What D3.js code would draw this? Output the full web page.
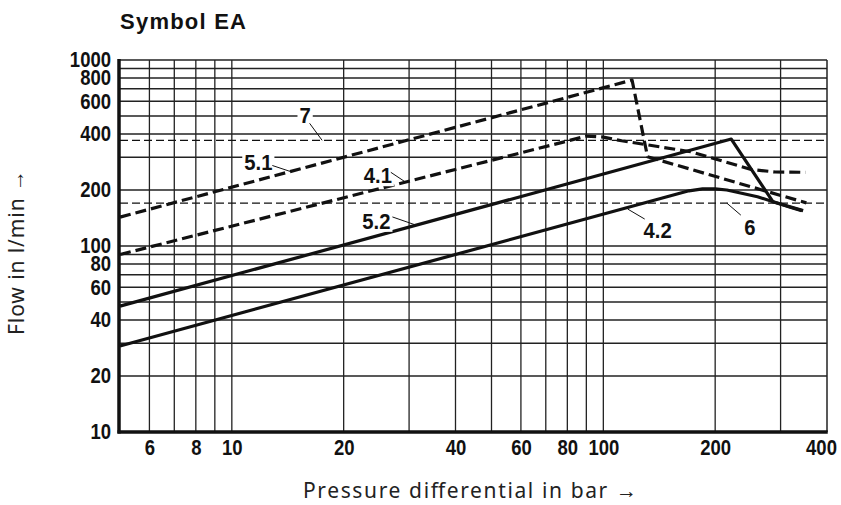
<!DOCTYPE html>
<html lang="en">
<head>
  <meta charset="UTF-8">
  <title>Symbol EA</title>
  <style>
    * { margin: 0; padding: 0; box-sizing: border-box; }
    body { background: #fff; width: 841px; height: 505px; overflow: hidden; }
    .tick text { font-family: "Liberation Sans", Arial, sans-serif; font-weight: bold; font-size: 21.5px; fill: #111; }
    .lbl { font-family: "Liberation Sans", Arial, sans-serif; font-weight: bold; font-size: 22px; fill: #111; }
  </style>
</head>
<body>
  <div id="chart"></div>

  <script src="https://d3js.org/d3.v7.min.js"></script>
  <script>
  // data
  const xTicks = [6, 8, 10, 20, 40, 60, 80, 100, 200, 400];
  const yTicks = [10, 20, 40, 60, 80, 100, 200, 400, 600, 800, 1000];
  const xGrid = [6, 7, 8, 9, 10, 20, 30, 40, 50, 60, 70, 80, 90, 100, 200, 300];
  const yGrid = [20, 30, 40, 50, 60, 70, 80, 90, 100, 200, 300, 400, 500, 600, 700, 800, 900, 1000];

  const curve7  = [[5, 370], [400, 370]];
  const curve6  = [[5, 170], [400, 170]];
  const curve51 = [[5, 143], [119.5, 780], [131.5, 302], [352, 170.5]];
  const curve41 = [[5, 90], [78, 362], [90, 390], [100, 385], [112, 368], [172, 321], [250, 258], [290, 250], [350, 249]];
  const curve52 = [[5, 47.5], [221, 376], [286, 173], [345, 155]];
  const curve42 = [[5, 29], [170, 198], [185, 203], [200, 203], [215, 200], [260, 184], [320, 161], [342, 155]];

  // curve labels: target point on curve, then text / leader offsets in px
  const labels = [
    {text: "7",   x: 17.5,  y: 370,   tx: -17, ty: -25, lx: -12.5, ly: -17},
    {text: "5.1", x: 14.37, y: 251.5, tx: -32, ty: -9,  lx: -18,   ly: -6},
    {text: "4.1", x: 29.4,  y: 220,   tx: -28, ty: -7,  lx: -15,   ly: -10},
    {text: "5.2", x: 31.2,  y: 129.8, tx: -39, ty: -4,  lx: -23,   ly: -8},
    {text: "4.2", x: 116.3, y: 158,   tx: 30,  ty: 21,  lx: 17,    ly: 10},
    {text: "6",   x: 215,   y: 170,   tx: 23,  ty: 24,  lx: 14,    ly: 12}
  ];

  var W = 841, H = 505;
  var margin = {top: 60, right: 14, bottom: 73, left: 120};
  var width = W - margin.left - margin.right;
  var height = H - margin.top - margin.bottom;

  // squeeze text horizontally to mimic the condensed bold face
  function condense(sel, k) {
    sel.each(function() {
      var w = this.getComputedTextLength();
      d3.select(this)
        .attr("textLength", w * k)
        .attr("lengthAdjust", "spacingAndGlyphs");
    });
  }

  var svg = d3.select("#chart")
    .append("svg")
      .attr("width", W)
      .attr("height", H);

  var g = svg.append("g")
      .attr("transform", "translate(" + margin.left + "," + margin.top + ")");

  var x = d3.scaleLog().domain([5, 400]).range([0, width]);
  var y = d3.scaleLog().domain([10, 1000]).range([height, 0]);

  // grid
  g.selectAll(".vgrid")
    .data(xGrid)
    .enter().append("line")
      .attr("x1", d => x(d)).attr("x2", d => x(d))
      .attr("y1", 0).attr("y2", height)
      .attr("stroke", "#222").attr("stroke-width", 1.3);

  g.selectAll(".hgrid")
    .data(yGrid)
    .enter().append("line")
      .attr("x1", 0).attr("x2", width)
      .attr("y1", d => y(d)).attr("y2", d => y(d))
      .attr("stroke", "#222").attr("stroke-width", 1.4);

  // right border
  g.append("line")
    .attr("x1", width).attr("x2", width)
    .attr("y1", 0).attr("y2", height)
    .attr("stroke", "#222").attr("stroke-width", 1.5);

  // axes (labels only)
  var xAxis = g.append("g")
    .attr("transform", "translate(0," + height + ")")
    .call(d3.axisBottom(x).tickValues(xTicks).tickSize(0).tickPadding(8).tickFormat(d3.format("d")));
  xAxis.select(".domain").remove();
  condense(xAxis.selectAll("text"), 0.86);
  // last label sits just inside the page edge
  xAxis.selectAll(".tick").filter(d => d === 400).select("text").attr("x", -6);

  var yAxis = g.append("g")
    .call(d3.axisLeft(y).tickValues(yTicks).tickSize(0).tickPadding(9).tickFormat(d3.format("d")));
  yAxis.select(".domain").remove();
  condense(yAxis.selectAll("text"), 0.86);

  // thick left / bottom axis lines
  g.append("line")
    .attr("x1", -1).attr("x2", -1)
    .attr("y1", -1).attr("y2", height + 1.5)
    .attr("stroke", "#111").attr("stroke-width", 3.5);
  g.append("line")
    .attr("x1", -2.5).attr("x2", width + 0.75)
    .attr("y1", height).attr("y2", height)
    .attr("stroke", "#111").attr("stroke-width", 3.5);

  var line = d3.line()
    .x(d => x(d[0]))
    .y(d => y(d[1]));

  // thin dashed limit lines
  [curve7, curve6].forEach(function(c) {
    g.append("path")
      .datum(c)
      .attr("d", line)
      .attr("fill", "none")
      .attr("stroke", "#111")
      .attr("stroke-width", 1.2)
      .attr("stroke-dasharray", "8,4");
  });

  // thick dashed curves
  [curve51, curve41].forEach(function(c) {
    g.append("path")
      .datum(c)
      .attr("d", line)
      .attr("fill", "none")
      .attr("stroke", "#111")
      .attr("stroke-width", 3.2)
      .attr("stroke-linejoin", "round")
      .attr("stroke-dasharray", "11,5");
  });

  // solid curves
  [curve52, curve42].forEach(function(c) {
    g.append("path")
      .datum(c)
      .attr("d", line)
      .attr("fill", "none")
      .attr("stroke", "#111")
      .attr("stroke-width", 3.2)
      .attr("stroke-linejoin", "round");
  });

  // curve labels with leader lines
  labels.forEach(function(l) {
    var px = x(l.x), py = y(l.y);
    var t = g.append("text")
      .attr("class", "lbl")
      .attr("x", px + l.tx)
      .attr("y", py + l.ty)
      .attr("dy", "0.36em")
      .attr("text-anchor", "middle")
      .text(l.text);
    condense(t, 0.92);
    var bb = t.node().getBBox();
    g.insert("rect", function() { return t.node(); })
      .attr("x", bb.x - 2).attr("y", bb.y + 2)
      .attr("width", bb.width + 4).attr("height", bb.height - 4)
      .attr("fill", "#fff");
    g.append("line")
      .attr("x1", px + l.lx).attr("y1", py + l.ly)
      .attr("x2", px).attr("y2", py)
      .attr("stroke", "#111").attr("stroke-width", 1);
  });

  // title
  svg.append("text")
    .attr("x", 120)
    .attr("y", 29)
    .attr("textLength", 126)
    .style("font-family", "'Liberation Sans', Arial, sans-serif")
    .style("font-weight", "bold")
    .style("font-size", "22px")
    .style("fill", "#111")
    .text("Symbol EA");

  // axis titles
  svg.append("text")
    .attr("x", 303)
    .attr("y", 498)
    .attr("textLength", 334)
    .style("font-family", "'Noto Sans', sans-serif")
    .style("font-size", "21px")
    .style("fill", "#222")
    .text("Pressure differential in bar \u2192");

  svg.append("text")
    .attr("transform", "translate(24,335)rotate(-90)")
    .attr("textLength", 165)
    .style("font-family", "'Noto Sans', sans-serif")
    .style("font-size", "21px")
    .style("fill", "#222")
    .text("Flow in l/min \u2192");
  </script>
</body>
</html>
